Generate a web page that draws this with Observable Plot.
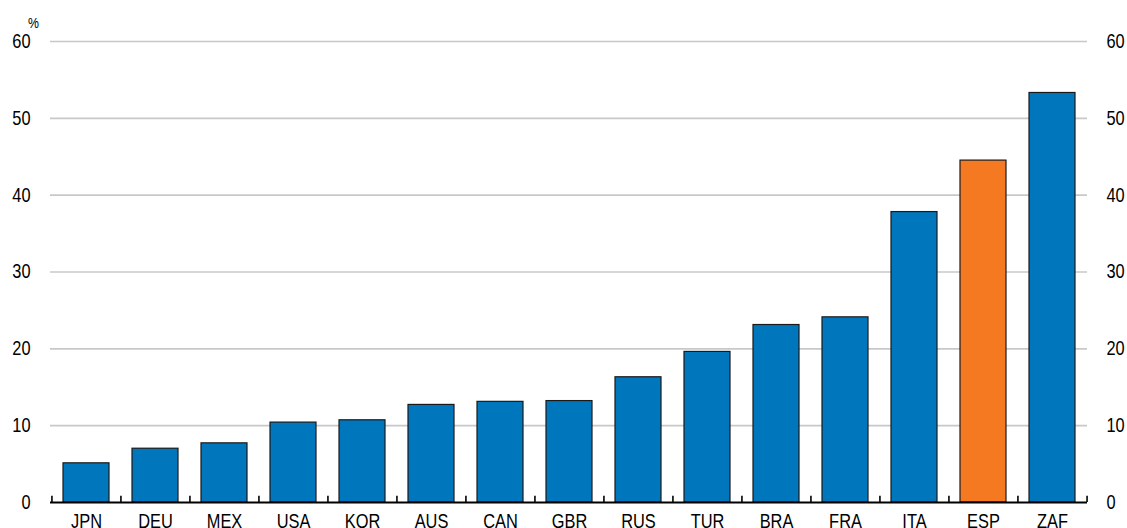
<!DOCTYPE html>
<html>
<head>
<meta charset="utf-8">
<script src="https://cdn.jsdelivr.net/npm/d3@7"></script>
<script src="https://cdn.jsdelivr.net/npm/@observablehq/plot@0.6"></script>
<style>
  html, body { margin: 0; padding: 0; background: #fff; }
  #chart { position: relative; width: 1127px; height: 528px; overflow: hidden; }
  #unit { position: absolute; left: 28px; top: 14px; font: 15px "Liberation Sans", Arial, sans-serif; color: #000; transform: scaleX(0.82); transform-origin: left center; }
</style>
</head>
<body>
<div id="chart"><div id="unit">%</div></div>
<script>
const countries = ["JPN","DEU","MEX","USA","KOR","AUS","CAN","GBR","RUS","TUR","BRA","FRA","ITA","ESP","ZAF"];
const values = [5.1, 7.0, 7.7, 10.4, 10.7, 12.7, 13.1, 13.2, 16.3, 19.6, 23.1, 24.1, 37.8, 44.5, 53.3];
const highlight = ["ESP"];
const yTicks = [0, 10, 20, 30, 40, 50, 60];

const data = countries.map((c, i) => ({country: c, value: values[i], hl: highlight.includes(c)}));

const W = 1127, H = 528, mL = 50, mR = 40;
const step = (W - mL - mR) / countries.length;
const font = '"Liberation Sans", Arial, sans-serif';

const plot = Plot.plot({
  width: W,
  height: H,
  marginLeft: mL,
  marginRight: mR,
  marginTop: 41,
  marginBottom: 26,
  style: {fontFamily: font, fontSize: "20px", color: "#000", background: "#fff"},
  x: {domain: countries, paddingInner: 0.335, paddingOuter: 0.1675},
  y: {domain: [0, 60]},
  marks: [
    Plot.ruleY(yTicks.filter(d => d > 0), {stroke: "#c8c8c8", strokeWidth: 1.6}),
    Plot.barY(data, {
      x: "country", y: "value",
      fill: d => d.hl ? "#F47920" : "#0077BD",
      stroke: "#1a1a1a", strokeWidth: 1.2
    }),
    Plot.ruleY([0], {stroke: "#000", strokeWidth: 1.8}),
    Plot.ruleX(countries, {x: d => d, y1: 0, y2: 0.8, dx: -step / 2, stroke: "#000", strokeWidth: 1.6}),
    Plot.ruleX([countries[countries.length - 1]], {x: d => d, y1: 0, y2: 0.8, dx: step / 2, stroke: "#000", strokeWidth: 1.6}),
    Plot.axisY(yTicks, {anchor: "left", tickSize: 0, tickPadding: 20, label: null, fontSize: 20}),
    Plot.axisY(yTicks, {anchor: "right", tickSize: 0, tickPadding: 19, label: null, fontSize: 20}),
    Plot.axisX({anchor: "bottom", tickSize: 0, tickPadding: 11, label: null, fontSize: 20})
  ]
});
// condense text horizontally around its anchor point (narrow-font look)
plot.querySelectorAll("text").forEach(t => {
  const tr = t.getAttribute("transform") || "";
  t.setAttribute("transform", (tr + " scale(0.82,1)").trim());
});
document.getElementById("chart").appendChild(plot);
</script>
</body>
</html>
